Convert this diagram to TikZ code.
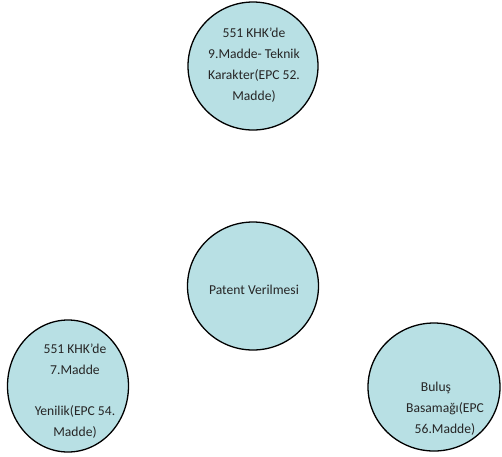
\documentclass[tikz,border=0pt]{standalone}
\usepackage{fontspec}
\setmainfont{Carlito}
\usetikzlibrary{shapes.geometric}
\definecolor{bubble}{RGB}{184,224,228}
\tikzset{
  bub/.style={ellipse, draw=black, line width=1.3pt, fill=bubble, inner sep=0pt},
  txt/.style={align=center, font=\fontsize{13.6}{20.8}\selectfont, text=black!85, inner sep=0pt}
}
\begin{document}
\begin{tikzpicture}[x=1pt,y=-1pt]
\useasboundingbox (0,0) rectangle (502,456);
\node[bub, minimum width=130pt, minimum height=128pt] (top) at (253,66) {};
\node[bub, minimum width=131pt, minimum height=128pt] (mid) at (253,286) {};
\node[bub, minimum width=121pt, minimum height=132pt] (left) at (68,386) {};
\node[bub, minimum width=132pt, minimum height=128pt] (right) at (434,387) {};
\node[txt] (toptxt) at (254,65) {551 KHK’de\\9.Madde- Teknik\\Karakter(EPC 52.\\Madde)};
\node[txt] (midtxt) at (254,290) {Patent Verilmesi};
\node[txt] (lefttxt) at (75,391) {551 KHK’de\\7.Madde\\[20.8pt]Yenilik(EPC 54.\\Madde)};
\node[txt] (righttxt) at (445,409) {Buluş\rule{18pt}{0pt}\\Basamağı(EPC\\56.Madde)};
\end{tikzpicture}
\end{document}
